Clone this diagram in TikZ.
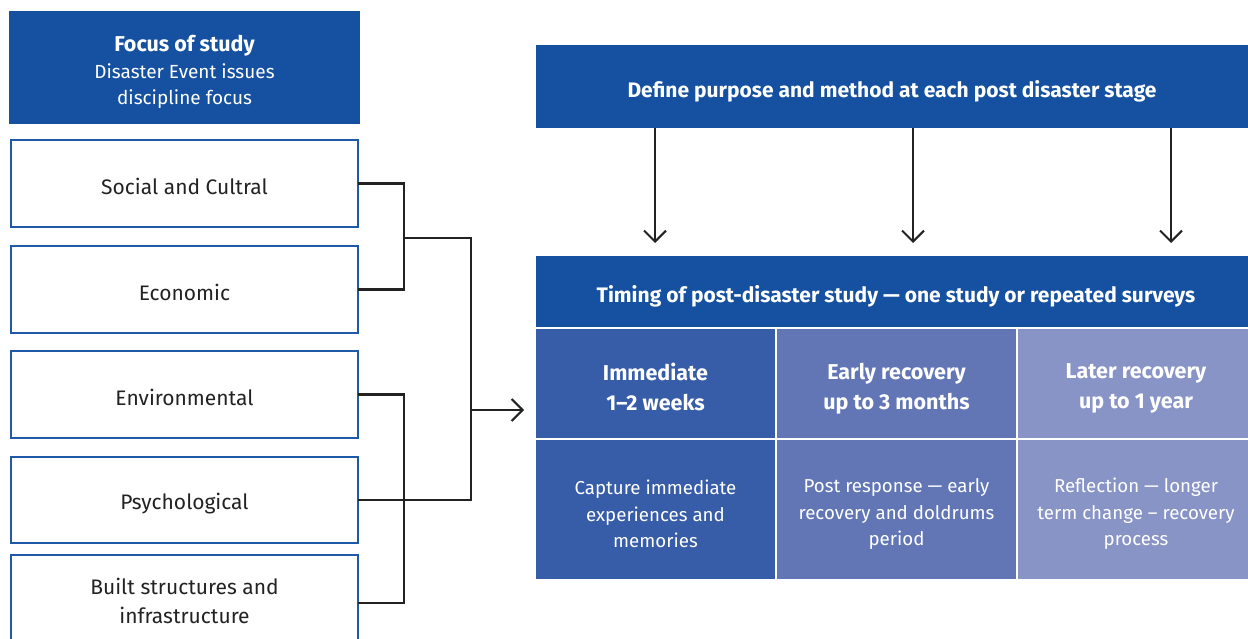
\documentclass[tikz,border=0pt]{standalone}
\usepackage{fontspec}
\setmainfont{Fira Sans}
\usetikzlibrary{arrows.meta}
\definecolor{hdr}{HTML}{1551A0}
\definecolor{bord}{HTML}{1F5AA8}
\definecolor{cA}{HTML}{375CA8}
\definecolor{cB}{HTML}{6276B6}
\definecolor{cC}{HTML}{8893C6}
\definecolor{ink}{HTML}{222222}
\begin{document}
\begin{tikzpicture}[x=1pt,y=-1pt,
  every node/.style={inner sep=0pt,outer sep=0pt},
  hdrbox/.style={fill=hdr,minimum width=#1},
  itembox/.style={draw=bord,line width=2pt,fill=white,minimum width=347pt},
  itemtext/.style={text=ink,align=center,font=\fontsize{21}{29}\selectfont},
  cell/.style={fill=#1,minimum width=239pt},
  wtext/.style={text=white,align=center},
  bigb/.style={wtext,font=\fontsize{21}{22}\selectfont\bfseries},
  rowa/.style={wtext,font=\fontsize{21.5}{30}\selectfont\bfseries},
  rowb/.style={wtext,font=\fontsize{18.7}{26.5}\selectfont},
  conn/.style={draw=ink,line width=2.4pt},
  arr/.style={draw=ink,line width=2pt,-{Straight Barb[length=11pt,width=22pt,line width=2pt]}}
]
\useasboundingbox (0,0) rectangle (1248,639);

% left column
\node[hdrbox=351pt,minimum height=113pt] (head) at (184.5,67.5) {};
\node[wtext,font=\fontsize{19}{26}\selectfont] (headt) at (184.5,72)
  {{\fontsize{21.5}{26}\selectfont\bfseries Focus of study}\\[1pt]
   Disaster Event issues\\ discipline focus};
\node[itembox,minimum height=87pt] (social) at (184.5,183.5) {};
\node[itembox,minimum height=86pt] (econ) at (184.5,289.5) {};
\node[itembox,minimum height=87pt] (env) at (184.5,394.5) {};
\node[itembox,minimum height=86pt] (psych) at (184.5,500) {};
\node[itembox,minimum height=96pt] (built) at (184.5,603) {};
\node[itemtext] (socialt) at (184.5,186) {Social and Cultral};
\node[itemtext] (econt) at (184.5,292) {Economic};
\node[itemtext] (envt) at (184.5,397) {Environmental};
\node[itemtext] (psycht) at (184.5,504) {Psychological};
\node[itemtext] (builtt) at (184.5,601) {Built structures and\\ infrastructure};

% connectors
\coordinate (ja) at (404,238);
\coordinate (jc) at (471,410);
\coordinate (jd) at (404,500);
\coordinate (tip) at (524,410);
\draw[conn] (social.east) -| (ja) |- (econ.east);
\draw[conn] (ja) -| (jc) |- (psych.east);
\draw[conn] (env.east) -| (jd) |- (built.east);
\draw[arr] (jc) -- (tip);

% right side
\node[hdrbox=712pt,minimum height=83pt] (define) at (892,86.5) {};
\node[bigb] (definet) at (892,91) {Define purpose and method at each post disaster stage};
\node[hdrbox=712pt,minimum height=71pt] (timing) at (892,291.5) {};
\node[bigb] (timingt) at (896,296.5) {Timing of post-disaster study — one study or repeated surveys};

\node[cell=cA,minimum height=109pt] (c11) at (655.5,383.5) {};
\node[cell=cB,minimum height=109pt] (c12) at (896.5,383.5) {};
\node[cell=cC,minimum height=109pt,minimum width=232pt] (c13) at (1134,383.5) {};
\node[cell=cA,minimum height=139pt] (c21) at (655.5,509.5) {};
\node[cell=cB,minimum height=139pt] (c22) at (896.5,509.5) {};
\node[cell=cC,minimum height=139pt,minimum width=232pt] (c23) at (1134,509.5) {};
\node[rowa] (c11t) at (655.5,387) {Immediate\\ 1–2 weeks};
\node[rowa] (c12t) at (896.5,388.5) {Early recovery\\ up to 3 months};
\node[rowa] (c13t) at (1136,388.5) {Later recovery\\ up to 1 year};
\node[rowb] (c21t) at (655.5,514) {Capture immediate\\ experiences and\\ memories};
\node[rowb] (c22t) at (896.5,514) {Post response — early\\ recovery and doldrums\\ period};
\node[rowb] (c23t) at (1136,514) {Reflection — longer\\ term change – recovery\\ process};

% top arrows
\coordinate (t1) at (655,243);
\coordinate (t2) at (913,243);
\coordinate (t3) at (1171,243);
\draw[arr] (define.south -| t1) -- (t1);
\draw[arr] (define.south -| t2) -- (t2);
\draw[arr] (define.south -| t3) -- (t3);
\end{tikzpicture}
\end{document}
